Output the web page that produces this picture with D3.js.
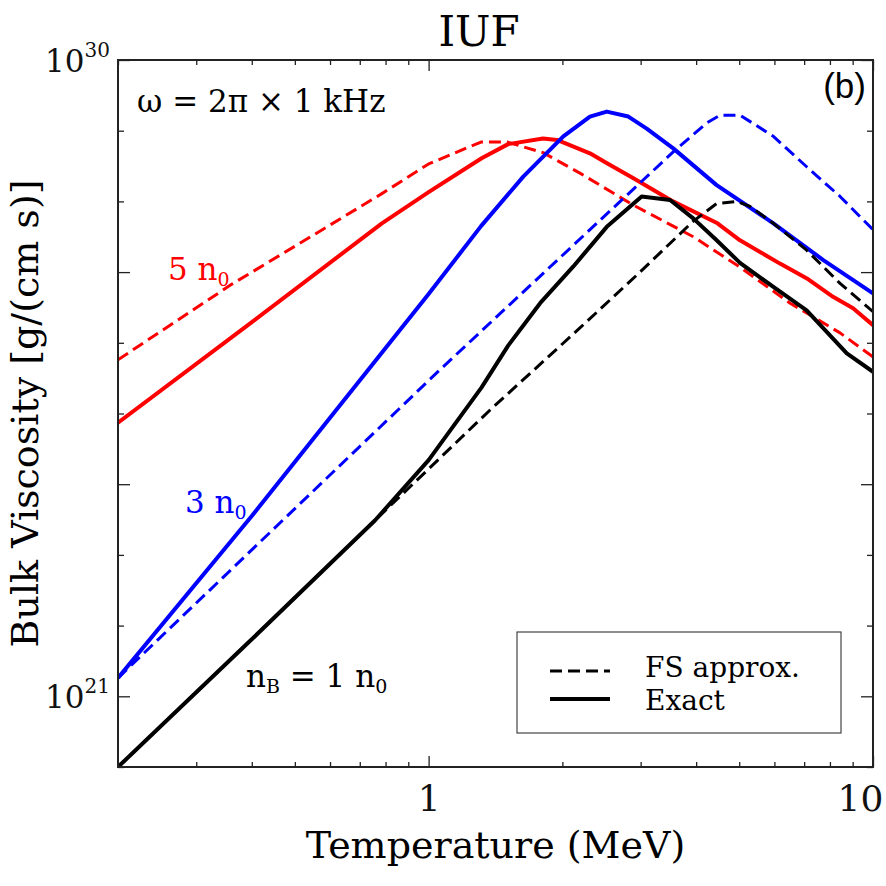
<!DOCTYPE html>
<html>
<head>
<meta charset="utf-8">
<script src="https://cdn.jsdelivr.net/npm/d3@7"></script>
<style>
  body { margin: 0; background: #fff; }
  svg { display: block; }
</style>
</head>
<body>
<svg id="chart" width="886" height="886"></svg>
<script>
// values: temperature (MeV) and log10 of bulk viscosity
const t1Exact = [0.2, 0.393, 0.758, 1.0, 1.316, 1.51, 1.782, 2.117, 2.517, 3.016, 3.494, 3.94, 4.448, 5.02, 5.968, 7.09, 8.73, 10];
const eta1Exact = [20.0, 21.76, 23.49, 24.34, 25.37, 25.96, 26.56, 27.08, 27.64, 28.07, 28.02, 27.76, 27.45, 27.13, 26.79, 26.46, 25.85, 25.59];
const t1FS = [0.2, 0.393, 0.758, 1.375, 2.19, 2.99, 3.94, 4.448, 4.935, 5.287, 5.968, 7.09, 8.43, 10];
const eta1FS = [20.0, 21.76, 23.49, 25.05, 26.21, 27.0, 27.72, 27.97, 28.0, 27.93, 27.69, 27.31, 26.84, 26.44];

const t3Exact = [0.2, 0.4, 1.0, 1.312, 1.633, 2.01, 2.307, 2.517, 2.815, 3.096, 3.552, 4.448, 5.968, 7.73, 10];
const eta3Exact = [21.26, 23.55, 26.69, 27.65, 28.35, 28.92, 29.2, 29.27, 29.2, 29.03, 28.75, 28.23, 27.69, 27.17, 26.7];
const t3FS = [0.2, 1.061, 3.552, 4.225, 4.526, 5.02, 5.968, 7.09, 8.43, 10];
const eta3FS = [21.26, 25.62, 28.7, 29.11, 29.22, 29.22, 28.92, 28.49, 28.07, 27.6];

const t5Exact = [0.2, 0.392, 0.785, 1.0, 1.316, 1.51, 1.809, 1.945, 2.307, 2.52, 2.884, 3.548, 4.467, 5.02, 6.176, 7.1, 8.13, 9.02, 10];
const eta5Exact = [24.87, 26.25, 27.69, 28.13, 28.61, 28.81, 28.89, 28.87, 28.68, 28.54, 28.33, 28.0, 27.69, 27.45, 27.12, 26.91, 26.65, 26.49, 26.25];
const t5FS = [0.2, 0.361, 0.556, 0.785, 1.0, 1.312, 1.501, 1.809, 2.19, 2.884, 3.94, 5.02, 6.51, 8.43, 10];
const eta5FS = [25.76, 26.83, 27.54, 28.11, 28.53, 28.84, 28.84, 28.69, 28.4, 27.95, 27.5, 27.07, 26.56, 26.14, 25.8];

const xMajorTicks = [1, 10];
const xMinorTicks = [0.2, 0.3, 0.4, 0.5, 0.6, 0.7, 0.8, 0.9, 2, 3, 4, 5, 6, 7, 8, 9];
const yMajorTicks = [1e21, 1e24, 1e27, 1e30];
const yMinorTicks = [1e20, 1e22, 1e23, 1e25, 1e26, 1e28, 1e29];
const yLabelled = [1e21, 1e30];

const series = [
  { t: t5FS, eta: eta5FS, color: "#ff0000", dashed: true },
  { t: t5Exact, eta: eta5Exact, color: "#ff0000", dashed: false },
  { t: t3FS, eta: eta3FS, color: "#0000ff", dashed: true },
  { t: t3Exact, eta: eta3Exact, color: "#0000ff", dashed: false },
  { t: t1FS, eta: eta1FS, color: "#000000", dashed: true },
  { t: t1Exact, eta: eta1Exact, color: "#000000", dashed: false },
];

const serif = "DejaVu Serif";
const plotLeft = 118, plotRight = 873, plotTop = 60, plotBottom = 767;

const svg = d3.select("#chart");

const x = d3.scaleLog().domain([0.2, 10]).range([plotLeft, plotRight]);
const y = d3.scaleLog().domain([1e20, 1e30]).range([plotBottom, plotTop]);

svg.append("clipPath").attr("id", "plotClip")
  .append("rect")
  .attr("x", plotLeft).attr("y", plotTop)
  .attr("width", plotRight - plotLeft).attr("height", plotBottom - plotTop);

// curves
const line = d3.line()
  .x((d) => x(d[0]))
  .y((d) => y(10 ** d[1]));

svg.append("g")
  .attr("clip-path", "url(#plotClip)")
  .selectAll("path")
  .data(series)
  .join("path")
  .attr("d", (s) => line(s.t.map((t, i) => [t, s.eta[i]])))
  .attr("fill", "none")
  .attr("stroke", (s) => s.color)
  .attr("stroke-width", (s) => (s.dashed ? 3 : 4))
  .attr("stroke-dasharray", (s) => (s.dashed ? "12,6" : null))
  .attr("stroke-linejoin", "round");

// axes with inward ticks
function tickAxis(axis, pos, size, values) {
  const g = svg.append("g")
    .attr("transform", pos)
    .call(axis.tickValues(values).tickSize(-size).tickFormat(""));
  g.select(".domain").remove();
  g.selectAll("line").attr("stroke", "#222").attr("stroke-width", 1.3);
  return g;
}

tickAxis(d3.axisBottom(x), `translate(0,${plotBottom})`, 5, xMinorTicks);
tickAxis(d3.axisTop(x), `translate(0,${plotTop})`, 5, xMinorTicks);
tickAxis(d3.axisTop(x), `translate(0,${plotTop})`, 11, xMajorTicks);
tickAxis(d3.axisLeft(y), `translate(${plotLeft},0)`, 6, yMinorTicks);
tickAxis(d3.axisRight(y), `translate(${plotRight},0)`, 6, yMinorTicks);
tickAxis(d3.axisLeft(y), `translate(${plotLeft},0)`, 12, yMajorTicks);
tickAxis(d3.axisRight(y), `translate(${plotRight},0)`, 12, yMajorTicks);

// labelled x axis
const xAxisG = svg.append("g")
  .attr("transform", `translate(0,${plotBottom})`)
  .call(d3.axisBottom(x).tickValues(xMajorTicks).tickSize(-11).tickPadding(18).tickFormat(d3.format("d")));
xAxisG.select(".domain").remove();
xAxisG.selectAll("line").attr("stroke", "#222").attr("stroke-width", 1.3);
xAxisG.selectAll("text")
  .attr("font-family", serif)
  .attr("font-size", 36)
  .attr("fill", "#111")
  .attr("dx", (d) => (d === 10 ? -13 : 0));

// y labels as 10 with superscript exponent
const yLabG = svg.append("g")
  .attr("transform", `translate(${plotLeft},0)`)
  .call(d3.axisLeft(y).tickValues(yLabelled).tickSize(0).tickPadding(8).tickFormat(""));
yLabG.select(".domain").remove();
yLabG.selectAll("text")
  .attr("font-family", serif)
  .attr("font-size", 31)
  .attr("fill", "#111")
  .attr("dy", "0.36em")
  .each(function (d) {
    const t = d3.select(this);
    t.append("tspan").text("10");
    t.append("tspan")
      .attr("dy", -15)
      .attr("font-size", 20)
      .text(Math.round(Math.log10(d)));
  });

// frame
svg.append("rect")
  .attr("x", plotLeft).attr("y", plotTop)
  .attr("width", plotRight - plotLeft).attr("height", plotBottom - plotTop)
  .attr("fill", "none")
  .attr("stroke", "#222")
  .attr("stroke-width", 2);

// titles
svg.append("text")
  .attr("x", 479).attr("y", 46)
  .attr("text-anchor", "middle")
  .attr("font-family", serif).attr("font-size", 42)
  .text("IUF");

svg.append("text")
  .attr("x", (plotLeft + plotRight) / 2).attr("y", 858)
  .attr("text-anchor", "middle")
  .attr("font-family", serif).attr("font-size", 38)
  .text("Temperature (MeV)");

svg.append("text")
  .attr("transform", `translate(38,${(plotTop + plotBottom) / 2}) rotate(-90)`)
  .attr("text-anchor", "middle")
  .attr("font-family", serif).attr("font-size", 38)
  .text("Bulk Viscosity [g/(cm s)]");

// annotations
svg.append("text")
  .attr("x", 137).attr("y", 112)
  .attr("font-family", serif).attr("font-size", 31)
  .text("ω = 2π × 1 kHz");

svg.append("text")
  .attr("x", 866).attr("y", 98)
  .attr("text-anchor", "end")
  .attr("font-family", "Liberation Sans").attr("font-size", 35)
  .text("(b)");

function densityLabel(xPos, yPos, color, pre, sub1, mid, sub2) {
  const t = svg.append("text")
    .attr("x", xPos).attr("y", yPos)
    .attr("font-family", serif).attr("font-size", 31)
    .attr("fill", color);
  t.append("tspan").text(pre);
  if (sub1) {
    t.append("tspan").attr("dy", 6).attr("font-size", 19).text(sub1);
    t.append("tspan").attr("dy", -6).text(mid);
  }
  t.append("tspan").attr("dy", 6).attr("font-size", 19).text(sub2);
}
densityLabel(168, 280, "#ff0000", "5 n", null, null, "0");
densityLabel(185, 513, "#0000ff", "3 n", null, null, "0");
densityLabel(246, 687, "#000000", "n", "B", " = 1 n", "0");

// legend
const legendItems = [
  { label: "FS approx.", dashed: true, y: 671, textY: 677 },
  { label: "Exact", dashed: false, y: 699, textY: 710 },
];
svg.append("rect")
  .attr("x", 517).attr("y", 632)
  .attr("width", 324).attr("height", 101)
  .attr("fill", "#fff")
  .attr("stroke", "#444")
  .attr("stroke-width", 1.2);
const lg = svg.append("g").selectAll("g").data(legendItems).join("g");
lg.append("line")
  .attr("x1", 550).attr("x2", 610)
  .attr("y1", (d) => d.y).attr("y2", (d) => d.y)
  .attr("stroke", "#000")
  .attr("stroke-width", (d) => (d.dashed ? 3 : 4))
  .attr("stroke-dasharray", (d) => (d.dashed ? "12,6" : null));
lg.append("text")
  .attr("x", 645).attr("y", (d) => d.textY)
  .attr("font-family", serif).attr("font-size", 28)
  .text((d) => d.label);
</script>
</body>
</html>
